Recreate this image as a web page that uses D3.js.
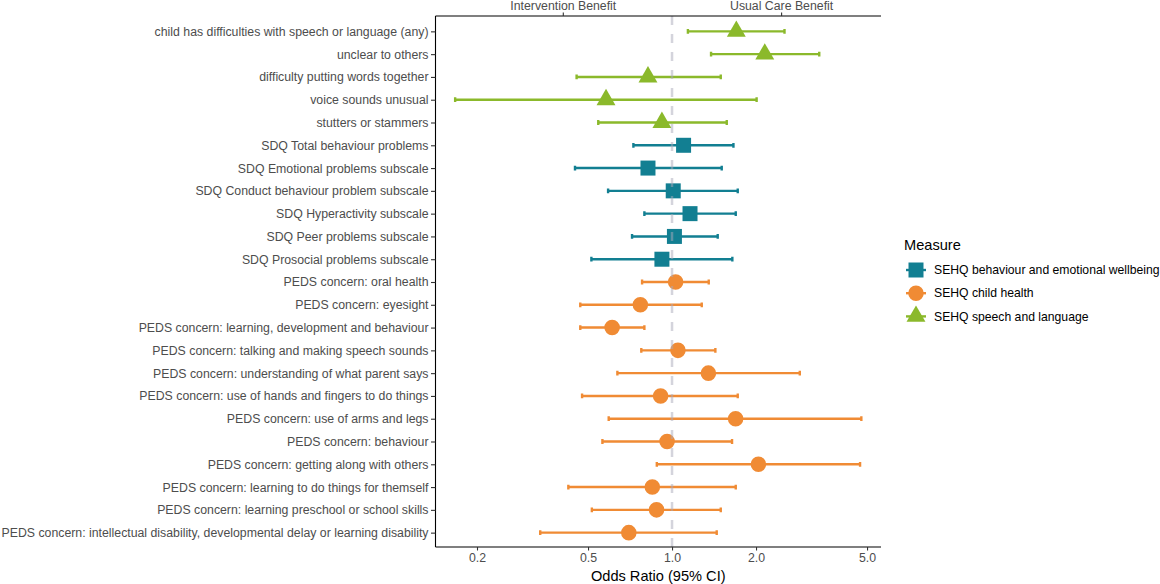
<!DOCTYPE html>
<html>
<head>
<meta charset="utf-8">
<script src="https://cdn.jsdelivr.net/npm/d3@7"></script>
<style>
  body { margin: 0; background: #fff; }
  svg { display: block; font-family: "Liberation Sans", Arial, sans-serif; }
</style>
</head>
<body>
<svg id="chart" width="1160" height="584"></svg>
<script>
// outcomes, top to bottom
const outcomes = [
  "child has difficulties with speech or language (any)",
  "unclear to others",
  "difficulty putting words together",
  "voice sounds unusual",
  "stutters or stammers",
  "SDQ Total behaviour problems",
  "SDQ Emotional problems subscale",
  "SDQ Conduct behaviour problem subscale",
  "SDQ Hyperactivity subscale",
  "SDQ Peer problems subscale",
  "SDQ Prosocial problems subscale",
  "PEDS concern: oral health",
  "PEDS concern: eyesight",
  "PEDS concern: learning, development and behaviour",
  "PEDS concern: talking and making speech sounds",
  "PEDS concern: understanding of what parent says",
  "PEDS concern: use of hands and fingers to do things",
  "PEDS concern: use of arms and legs",
  "PEDS concern: behaviour",
  "PEDS concern: getting along with others",
  "PEDS concern: learning to do things for themself",
  "PEDS concern: learning preschool or school skills",
  "PEDS concern: intellectual disability, developmental delay or learning disability"
];
const measure = [
  "sl", "sl", "sl", "sl", "sl",
  "be", "be", "be", "be", "be", "be",
  "ch", "ch", "ch", "ch", "ch", "ch", "ch", "ch", "ch", "ch", "ch", "ch"
];
const oddsRatio = [1.70, 2.15, 0.82, 0.58, 0.92,
  1.10, 0.82, 1.01, 1.16, 1.02, 0.92,
  1.03, 0.77, 0.61, 1.05, 1.35, 0.91, 1.69, 0.96, 2.04, 0.85, 0.88, 0.70];
const ciLow = [1.14, 1.38, 0.455, 0.167, 0.544,
  0.727, 0.449, 0.59, 0.796, 0.719, 0.514,
  0.781, 0.469, 0.469, 0.776, 0.637, 0.476, 0.593, 0.563, 0.882, 0.425, 0.516, 0.337];
const ciHigh = [2.53, 3.37, 1.495, 2.01, 1.571,
  1.66, 1.507, 1.72, 1.692, 1.458, 1.645,
  1.354, 1.278, 0.796, 1.43, 2.87, 1.72, 4.77, 1.641, 4.72, 1.692, 1.495, 1.446];

const measureKeys = ["be", "ch", "sl"];
const measureNames = ["SEHQ behaviour and emotional wellbeing", "SEHQ child health", "SEHQ speech and language"];
const measureColors = ["#127f92", "#f08b34", "#8bb92b"];

const xBreaks = [0.2, 0.5, 1.0, 2.0, 5.0];
const topBreaks = [0.406, 2.46];
const topLabels = ["Intervention Benefit", "Usual Care Benefit"];

const rows = outcomes.map((o, i) => ({
  outcome: o, measure: measure[i], or: oddsRatio[i], lo: ciLow[i], hi: ciHigh[i]
}));

const pLeft = 435.5, pRight = 881, pTop = 16, pBottom = 547;
const svg = d3.select("#chart");

const x = d3.scaleLog().domain([0.142, 5.61]).range([pLeft, pRight]);
const y = d3.scalePoint().domain(outcomes).range([pTop + 1, pBottom]).padding(0.63);
const color = d3.scaleOrdinal().domain(measureKeys).range(measureColors);
const shape = d3.scaleOrdinal().domain(measureKeys)
  .range([d3.symbolSquare, d3.symbolCircle, d3.symbolTriangle]);
const shapeSize = d3.scaleOrdinal().domain(measureKeys).range([225, 190, 155]);

// error bars
const cap = 2.4;
svg.append("g").selectAll("path")
  .data(rows)
  .join("path")
  .attr("d", d => {
    const y0 = y(d.outcome), x1 = x(d.lo), x2 = x(d.hi);
    return `M${x1},${y0 - cap}V${y0 + cap}M${x1},${y0}H${x2}M${x2},${y0 - cap}V${y0 + cap}`;
  })
  .attr("fill", "none")
  .attr("stroke", d => color(d.measure))
  .attr("stroke-width", 2.4);

// points
svg.append("g").selectAll("path")
  .data(rows)
  .join("path")
  .attr("transform", d => `translate(${x(d.or)},${y(d.outcome)})`)
  .attr("d", d => d3.symbol(shape(d.measure), shapeSize(d.measure))())
  .attr("fill", d => color(d.measure));

// reference line at 1
svg.append("line")
  .attr("x1", x(1)).attr("x2", x(1))
  .attr("y1", pTop).attr("y2", pBottom)
  .attr("stroke", "#a9a9b9")
  .attr("stroke-opacity", 0.5)
  .attr("stroke-width", 2.5)
  .attr("stroke-dasharray", "9,9");

// axes
const bottomAxis = svg.append("g")
  .attr("transform", `translate(0,${pBottom})`)
  .call(d3.axisBottom(x).tickValues(xBreaks).tickFormat(d3.format(".1f")).tickSizeOuter(0).tickSize(3.5));
bottomAxis.select(".domain").attr("d", `M${pLeft},0H${pRight}`);

const topAxis = svg.append("g")
  .attr("transform", `translate(0,${pTop})`)
  .call(d3.axisTop(x).tickValues(topBreaks).tickFormat((d, i) => topLabels[i]).tickSizeOuter(0).tickSize(3.5));
topAxis.select(".domain").attr("d", `M${pLeft},0H${pRight}`);

const leftAxis = svg.append("g")
  .attr("transform", `translate(${pLeft},0)`)
  .call(d3.axisLeft(y).tickSizeOuter(0).tickSize(4.5).tickPadding(2.5));
leftAxis.select(".domain").attr("d", `M0,${pTop}V${pBottom}`);

svg.selectAll(".domain").attr("stroke", "#000").attr("stroke-width", 1.1);
svg.selectAll(".tick line").attr("stroke", "#333").attr("stroke-width", 1.1);
svg.selectAll(".tick text")
  .attr("fill", "#4d4d4d")
  .style("font-size", "12.3px")
  .style("font-family", "'Liberation Sans', Arial, sans-serif");

svg.append("text")
  .attr("x", (pLeft + pRight) / 2)
  .attr("y", 581)
  .attr("text-anchor", "middle")
  .style("font-size", "14.6px")
  .text("Odds Ratio (95% CI)");

// legend
const legend = svg.append("g").attr("transform", "translate(904,0)");
legend.append("text")
  .attr("x", 0).attr("y", 250)
  .style("font-size", "14.6px")
  .text("Measure");

const items = legend.selectAll("g.item")
  .data(measureKeys)
  .join("g")
  .attr("class", "item")
  .attr("transform", (d, i) => `translate(0,${270 + i * 23.2})`);
items.append("line")
  .attr("x1", 2).attr("x2", 22)
  .attr("stroke", d => color(d))
  .attr("stroke-width", 2.4);
items.append("path")
  .attr("transform", "translate(12,0)")
  .attr("d", d => d3.symbol(shape(d), shapeSize(d))())
  .attr("fill", d => color(d));
items.append("text")
  .attr("x", 30).attr("dy", "0.35em")
  .style("font-size", "12.2px")
  .text((d, i) => measureNames[i]);
</script>
</body>
</html>
